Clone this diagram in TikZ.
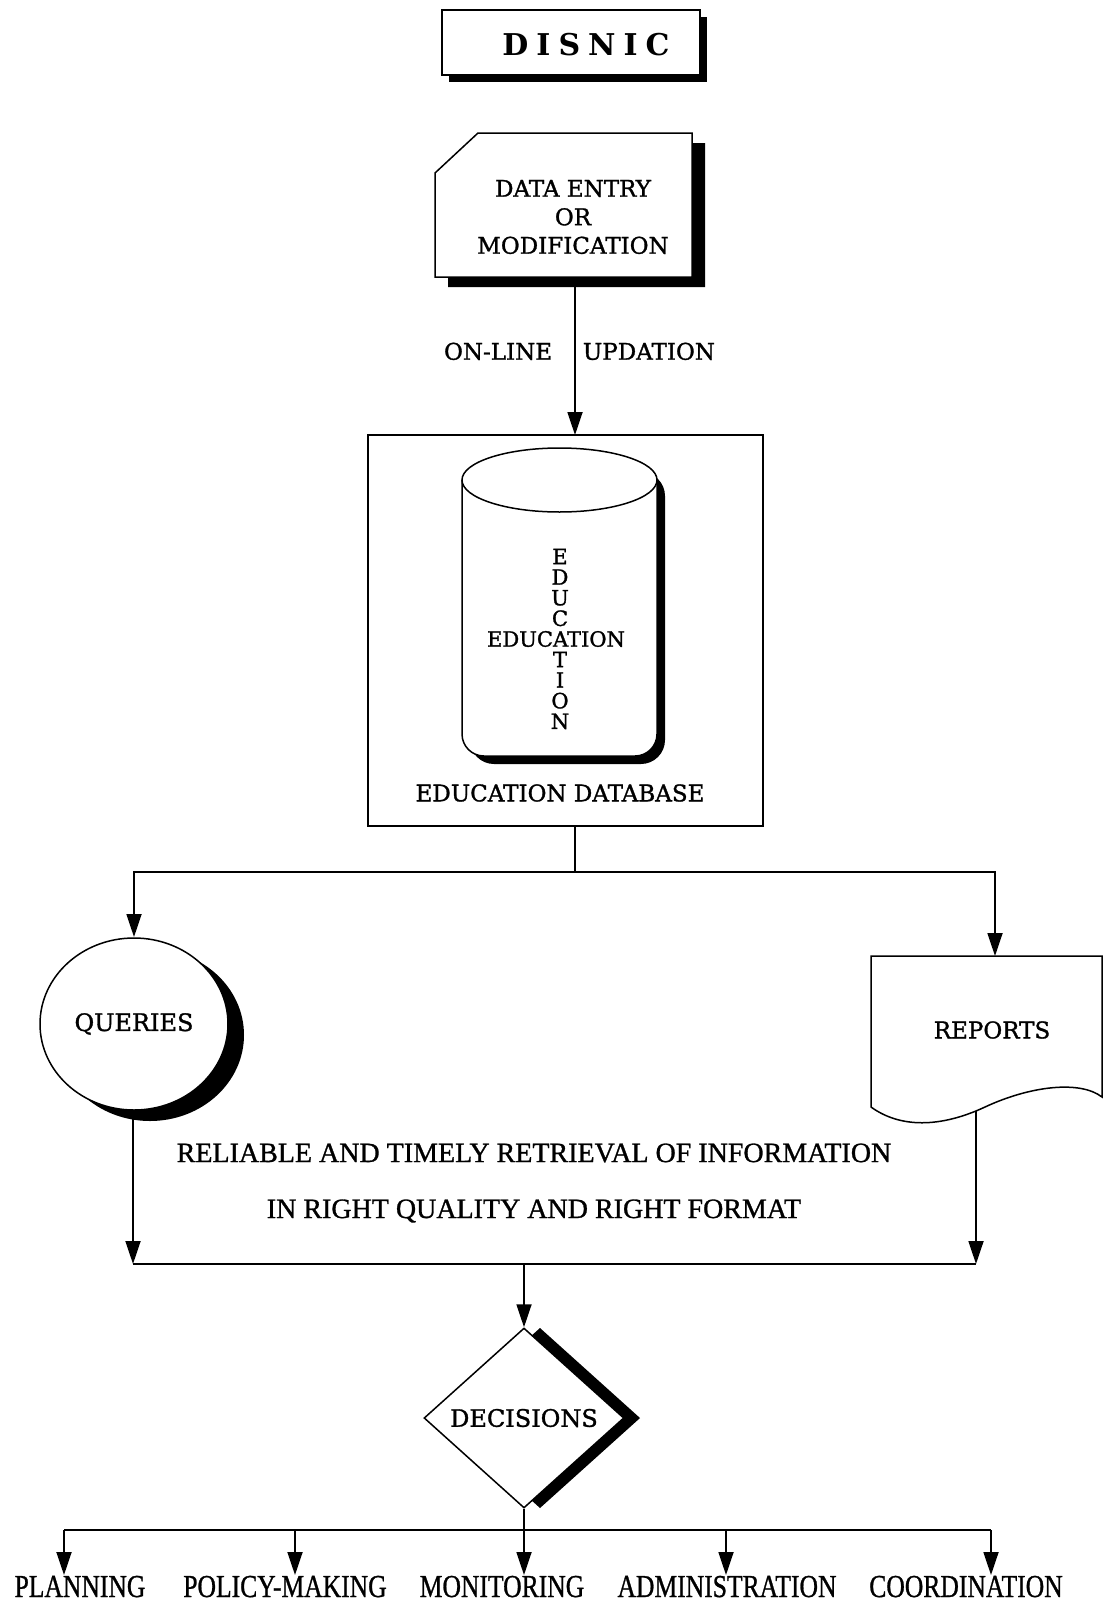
\documentclass[tikz,border=0pt]{standalone}
\usepackage{fontspec}
\setmainfont{DejaVu Serif}
\newfontfamily\semib{DejaVu Serif}[FakeBold=1.3]
\newfontfamily\lserif{Liberation Serif}[FakeBold=1]
\usetikzlibrary{arrows.meta,shapes.geometric,calc}
\begin{document}
\begin{tikzpicture}[x=1pt,y=-1pt,
  conn/.style={line width=1.8pt},
  arr/.style={line width=1.8pt,-{Triangle[length=23pt,width=15pt]}},
  outline/.style={draw,line width=1.5pt,fill=white},
  lbl/.style={font=\semib\fontsize{23}{28.5}\selectfont,align=center,inner sep=0pt},
  retr/.style={font=\lserif\fontsize{28}{30}\selectfont,inner sep=0pt},
  outlbl/.style={font=\lserif\fontsize{32}{34}\selectfont,inner sep=0pt,anchor=base},
]
\useasboundingbox (0,0) rectangle (1114,1603);

% DISNIC
\fill (449,17) rectangle (707,82);
\node[outline,line width=1.3pt,minimum width=258pt,minimum height=65pt,inner sep=0pt] (disnic) at (571,42.5) {};
\node[font=\fontsize{30}{30}\selectfont\bfseries,inner sep=0pt] (disnictext) at (586,45)
  {D\hspace{8pt}I\hspace{8pt}S\hspace{8pt}N\hspace{8pt}I\hspace{8pt}C};

% Data entry
\fill (491,143) -- (705,143) -- (705,287) -- (448,287) -- (448,183) -- cycle;
\draw[line width=1.5pt,fill=white] (478,133) -- (692,133) -- (692,277) -- (435,277) -- (435,173) -- cycle;
\node[minimum width=257pt,minimum height=144pt,inner sep=0pt] (entrybox) at (563.5,205) {};
\node[lbl] (entry) at (573,217) {DATA ENTRY\\OR\\MODIFICATION};

% Database
\node[draw,line width=1.5pt,minimum width=395pt,minimum height=391pt,inner sep=0pt] (db) at (565.5,630.5) {};
\coordinate (dbin) at (575,435);
\draw[arr] (entrybox.south -| dbin) -- node[pos=0.47,left=22pt,lbl] (online) {ON-LINE}
  node[pos=0.47,right=7pt,lbl] (updation) {UPDATION} (dbin);

% cylinder
\fill[rounded corners=24pt] (470,472) -- (470,764) -- (665,764) -- (665,472) -- cycle;
\draw[line width=1.5pt,fill=white,rounded corners=22pt] (462,480) -- (462,756) -- (657,756) -- (657,480);
\draw[line width=1.5pt,fill=white] (559.5,480) ellipse[x radius=97.5,y radius=32];
\node[lbl,font=\semib\fontsize{21}{20.6}\selectfont] (vert) at (560,639)
  {E\\D\\U\\C\\\phantom{A}\\T\\I\\O\\N};
\node[lbl,font=\semib\fontsize{21}{21}\selectfont] (horiz) at (556,639) {EDUCATION};
\node[lbl] (dbname) at (560,793) {EDUCATION DATABASE};

% split
\coordinate (split) at (575,872);
\coordinate (rin) at (995,956);
\draw[conn] (db.south -| split) -- (split);
\draw[arr] (split) -| (134,937);
\draw[arr] (split) -| (rin);

% Queries
\fill (150,1035) ellipse[x radius=94,y radius=86];
\node[outline,ellipse,minimum width=188pt,minimum height=172pt,inner sep=0pt,
  font=\semib\fontsize{24}{24}\selectfont] (queries) at (134,1024) {QUERIES};

% Reports
\draw[line width=1.5pt,fill=white] (871,956) -- (1102,956) -- (1102,1097)
  .. controls (1080,1080) and (1030,1086) .. (985,1107)
  .. controls (940,1128) and (900,1128) .. (871,1107) -- cycle;
\node[lbl] (reports) at (992,1030) {REPORTS};
\coordinate (rout) at (976,1111);

% retrieval
\node[retr] (ret1) at (534,1153) {RELIABLE AND TIMELY RETRIEVAL OF INFORMATION};
\node[retr] (ret2) at (534,1211) {IN RIGHT QUALITY AND RIGHT FORMAT};

\coordinate (ml) at (133,1264);
\coordinate (mr) at (976,1264);
\coordinate (mc) at (524,1264);
\draw[arr] (queries.south -| ml) -- (ml);
\draw[conn] (ml) -- (mr);
\draw[arr] (rout) -- (mr);

% Decisions
\fill (540,1328) -- (640,1418) -- (540,1508) -- (440,1418) -- cycle;
\node[draw,line width=1.5pt,fill=white,diamond,minimum width=200pt,minimum height=180pt,
  inner sep=0pt,font=\semib\fontsize{24}{24}\selectfont] (dec) at (524,1418) {DECISIONS};
\draw[arr] (mc) -- (dec.north);

% outputs
\coordinate (bus) at (524,1530);
\coordinate (b1) at (64,1530);
\coordinate (b2) at (295,1530);
\coordinate (b4) at (726,1530);
\coordinate (b5) at (991,1530);
\draw[conn] (dec.south) -- (bus);
\draw[conn] (b1) -- (b5);
\node[outlbl] (plan) at (80,1597) {\scalebox{0.8}[1]{PLANNING}};
\node[outlbl] (policy) at (285,1597) {\scalebox{0.8}[1]{POLICY-MAKING}};
\node[outlbl] (monit) at (502,1597) {\scalebox{0.8}[1]{MONITORING}};
\node[outlbl] (admin) at (727,1597) {\scalebox{0.8}[1]{ADMINISTRATION}};
\node[outlbl] (coord) at (966,1597) {\scalebox{0.8}[1]{COORDINATION}};
\coordinate (tipline) at (0,1575);
\draw[arr] (b1) -- (b1 |- tipline);
\draw[arr] (b2) -- (b2 |- tipline);
\draw[arr] (bus) -- (bus |- tipline);
\draw[arr] (b4) -- (b4 |- tipline);
\draw[arr] (b5) -- (b5 |- tipline);
\end{tikzpicture}
\end{document}
